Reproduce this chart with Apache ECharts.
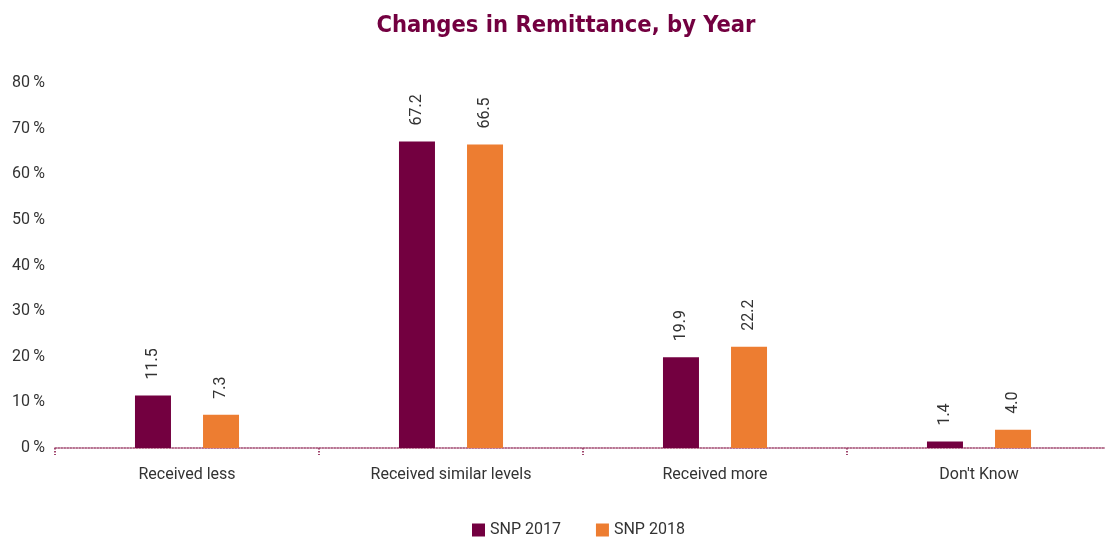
<!DOCTYPE html>
<html>
<head>
<meta charset="utf-8">
<script src="https://cdn.jsdelivr.net/npm/echarts@6/dist/echarts.min.js"></script>
<style>html,body{margin:0;padding:0;background:#fff;overflow:hidden}#c{width:1112px;height:541px}</style>
</head>
<body>
<div id="c"></div>
<script>
const categories = ["Received less", "Received similar levels", "Received more", "Don't Know"];
const snp2017 = [11.5, 67.2, 19.9, 1.4];
const snp2018 = [7.3, 66.5, 22.2, 4.0];
const seriesNames = ["SNP 2017", "SNP 2018"];

const chart = echarts.init(document.getElementById('c'));
const labelCfg = {
  show: true, position: 'top', rotate: 90, align: 'left', verticalAlign: 'middle',
  distance: 16, color: '#333', fontSize: 16, fontFamily: 'Roboto',
  formatter: p => p.value.toFixed(1)
};
chart.setOption({
  animation: false,
  title: {
    text: 'Changes in Remittance, by Year', left: 561, textAlign: 'center', top: 9,
    textStyle: { color: '#730040', fontSize: 23.5, fontWeight: 'bold', fontFamily: 'DejaVu Sans Condensed' }
  },
  legend: {
    bottom: -2, left: 467, itemWidth: 13, itemHeight: 13, itemGap: 35,
    icon: 'rect',
    textStyle: { color: '#333', fontSize: 16, fontFamily: 'Roboto' },
    data: seriesNames
  },
  grid: { left: 55, width: 1056, top: 83, bottom: 93, containLabel: false },
  xAxis: {
    type: 'category', data: categories,
    axisLine: { lineStyle: { color: '#a0466e', type: 'dotted', width: 1.5 } },
    axisTick: { show: true, length: 7, lineStyle: { color: '#a0466e', type: [1.5, 1.5], width: 2 } },
    axisLabel: { color: '#333', fontSize: 16, fontFamily: 'Roboto', margin: 19 }
  },
  yAxis: {
    type: 'value', min: 0, max: 80, interval: 10,
    splitLine: { show: false },
    axisLine: { show: false }, axisTick: { show: false },
    axisLabel: { color: '#333', fontSize: 16, fontFamily: 'Roboto', margin: 10, formatter: v => v + '\u2009%' }
  },
  series: [
    { name: seriesNames[0], type: 'bar', data: snp2017, barWidth: 36, barGap: '89%',
      itemStyle: { color: '#730040' }, label: labelCfg },
    { name: seriesNames[1], type: 'bar', data: snp2018, barWidth: 36,
      itemStyle: { color: '#ED7D31' }, label: labelCfg }
  ]
});
</script>
</body>
</html>
